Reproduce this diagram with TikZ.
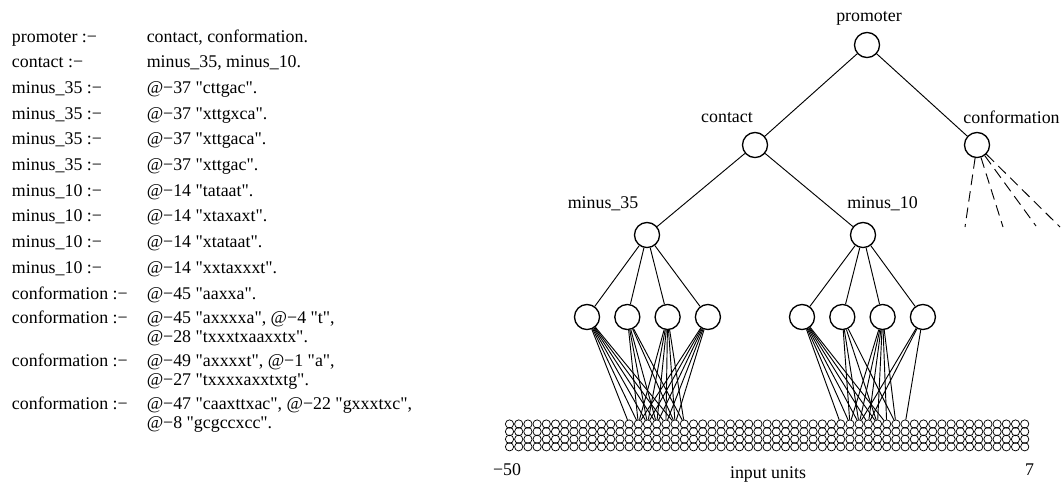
\documentclass[tikz,border=0pt]{standalone}
\usepackage{fontspec}
% straight quotes stay straight: no TeX ligature mapping
\setmainfont{Liberation Serif}[Ligatures=TeXOff]
\begin{document}
\begin{tikzpicture}[x=0.75pt,y=-0.75pt,
  txt/.style={font=\fontsize{13.4pt}{16pt}\selectfont, inner sep=0pt, anchor=base west},
  lbl/.style={font=\fontsize{13.4pt}{16pt}\selectfont, inner sep=0pt, anchor=base},
  neuron/.style={circle, draw, line width=1pt, minimum size=18.8pt, inner sep=0pt},
  unit/.style={circle, draw, line width=0.55pt, minimum size=6.2pt, inner sep=0pt},
  link/.style={line width=0.7pt},
  open/.style={line width=0.7pt, dash pattern=on 8pt off 4.5pt}]

\useasboundingbox (0,0) rectangle (1062,482);

% ---------------- rule set ----------------
\def\ca{11.7}
\def\cb{146.5}
\node[txt] (l1) at (\ca,42)    {promoter :−};
\node[txt] (r1) at (\cb,42)    {contact, conformation.};
\node[txt] (l2) at (\ca,67.7)  {contact :−};
\node[txt] (r2) at (\cb,67.7)  {minus\_35, minus\_10.};
\node[txt] (l3) at (\ca,93.4)  {minus\_35 :−};
\node[txt] (r3) at (\cb,93.4)  {@−37 "cttgac".};
\node[txt] (l4) at (\ca,119.1) {minus\_35 :−};
\node[txt] (r4) at (\cb,119.1) {@−37 "xttgxca".};
\node[txt] (l5) at (\ca,144.8) {minus\_35 :−};
\node[txt] (r5) at (\cb,144.8) {@−37 "xttgaca".};
\node[txt] (l6) at (\ca,170.5) {minus\_35 :−};
\node[txt] (r6) at (\cb,170.5) {@−37 "xttgac".};
\node[txt] (l7) at (\ca,196.2) {minus\_10 :−};
\node[txt] (r7) at (\cb,196.2) {@−14 "tataat".};
\node[txt] (l8) at (\ca,221.9) {minus\_10 :−};
\node[txt] (r8) at (\cb,221.9) {@−14 "xtaxaxt".};
\node[txt] (l9) at (\ca,247.6) {minus\_10 :−};
\node[txt] (r9) at (\cb,247.6) {@−14 "xtataat".};
\node[txt] (l10) at (\ca,273.3) {minus\_10 :−};
\node[txt] (r10) at (\cb,273.3) {@−14 "xxtaxxxt".};
\node[txt] (l11) at (\ca,299)  {conformation :−};
\node[txt] (r11) at (\cb,299)  {@−45 "aaxxa".};
\node[txt] (l12) at (\ca,323)  {conformation :−};
\node[txt] (r12) at (\cb,323)  {@−45 "axxxxa", @−4 "t",};
\node[txt] (r13) at (\cb,342)  {@−28 "txxxtxaaxxtx".};
\node[txt] (l14) at (\ca,366)  {conformation :−};
\node[txt] (r14) at (\cb,366)  {@−49 "axxxxt", @−1 "a",};
\node[txt] (r15) at (\cb,385)  {@−27 "txxxxaxxtxtg".};
\node[txt] (l16) at (\ca,409)  {conformation :−};
\node[txt] (r16) at (\cb,409)  {@−47 "caaxttxac", @−22 "gxxxtxc",};
\node[txt] (r17) at (\cb,428)  {@−8 "gcgccxcc".};

% ---------------- input units: 57 positions, 4 rows ----------------
\foreach \c in {0,...,56}
  \foreach \r in {0,...,3}
    \node[unit] (g\c-\r) at ({509.5+9.2*\c},{424+7.6*\r}) {};
\node[lbl] (lo) at (507,475) {−50};
\node[lbl] (hi) at (1029.5,475) {7};
\node[lbl] (iu) at (768,478.5) {input units};

% ---------------- network ----------------
\node[neuron] (prom) at (867,45) {};
\node[lbl] (promL) at (869,21) {promoter};
\node[neuron] (cont) at (755,145) {};
\node[lbl] (contL) at (727,122.5) {contact};
\node[neuron] (conf) at (977,145) {};
\node[lbl] (confL) at (1011.5,123) {conformation};
\node[neuron] (m35) at (647,235) {};
\node[lbl] (m35L) at (603,208) {minus\_35};
\node[neuron] (m10) at (863,235) {};
\node[lbl] (m10L) at (882.5,208) {minus\_10};

\foreach \i in {1,...,4} {
  \node[neuron] (a\i) at ({587+40.3*(\i-1)},317) {};
  \node[neuron] (b\i) at ({802+40.3*(\i-1)},317) {};
  \draw[link] (m35) -- (a\i);
  \draw[link] (m10) -- (b\i);
}

\draw[link] (prom) -- (cont);
\draw[link] (prom) -- (conf);
\draw[link] (cont) -- (m35);
\draw[link] (cont) -- (m10);

% conformation rules, left unexpanded
\coordinate (d1) at (965,227);
\coordinate (d2) at (1003,227);
\coordinate (d3) at (1036,226);
\coordinate (d4) at (1060,227);
\foreach \d in {d1,d2,d3,d4}
  \draw[open] (conf) -- (\d);

% rule units to the input positions they test (column = position + 50)
\foreach \h/\cols in {a1/{13,14,15,16,17,18}, a2/{14,15,16,18,19},
                      a3/{14,15,16,17,18,19}, a4/{14,15,16,17,18},
                      b1/{36,37,38,39,40,41}, b2/{37,38,40,42},
                      b3/{37,38,39,40,41,42}, b4/{38,39,43}}
  \foreach \c in \cols
    \draw[link] (\h) -- (g\c-0);
\end{tikzpicture}
\end{document}
